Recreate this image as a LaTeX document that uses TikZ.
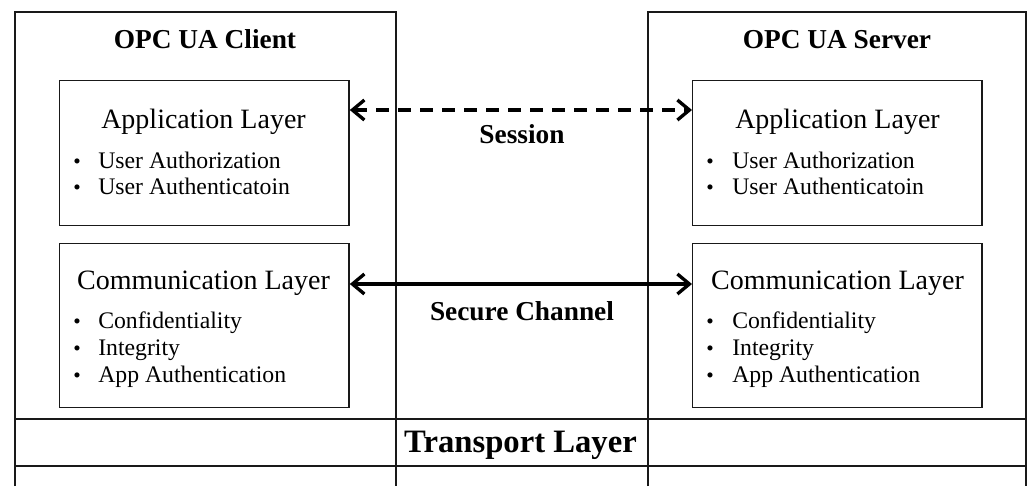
\documentclass[tikz,border=0pt]{standalone}
\usepackage{fontspec}
\setmainfont{Liberation Serif}
\usetikzlibrary{arrows.meta}

\begin{document}
\begin{tikzpicture}[x=0.75pt,y=-0.75pt,
  frame/.style={line width=1.1pt, draw=black!90},
  layerbox/.style={draw=black!90, line width=1.1pt, inner sep=0pt, anchor=north west,
                   minimum width=217pt, minimum height=108.75pt},
  commbox/.style={layerbox, minimum height=123pt},
  heading/.style={anchor=base, inner sep=0pt, font=\fontsize{20.5}{24}\selectfont\bfseries},
  layertitle/.style={anchor=base, inner sep=0pt, font=\fontsize{21}{25}\selectfont},
  item/.style={anchor=base west, inner sep=0pt, font=\fontsize{17.8}{21}\selectfont},
  dot/.style={anchor=base, inner sep=0pt, font=\fontsize{16}{19}\selectfont},
  link/.style={line width=2.5pt, {Straight Barb[length=9pt,width=15pt]}-{Straight Barb[length=9pt,width=15pt]}},
  linklabel/.style={anchor=base, inner sep=0pt, font=\fontsize{20.5}{24}\selectfont\bfseries}]

\useasboundingbox (0,0) rectangle (1029,486);

% client and server frames, open at the bottom
\draw[frame] (15,486) -- (15,12) -- (396,12) -- (396,486);
\draw[frame] (648,486) -- (648,12) -- (1026,12) -- (1026,486);
% transport layer row
\draw[frame] (15,419) -- (1026,419);
\draw[frame, line width=1.6pt] (15,466) -- (1026,466);
\node[anchor=base, inner sep=0pt, font=\fontsize{24.5}{28}\selectfont\bfseries] (transport) at (520.5,452) {Transport Layer};

% headings
\node[heading] (clienthead) at (205,48) {OPC UA Client};
\node[heading] (serverhead) at (837,48) {OPC UA Server};

% client layers
\node[layerbox] (capp) at (59,80) {};
\node[commbox] (ccomm) at (59,243) {};
% server layers
\node[layerbox] (sapp) at (692,80) {};
\node[commbox] (scomm) at (692,243) {};

% application layer contents
\node[layertitle] (capptitle) at (203.5,128) {Application Layer};
\node[dot] (cappd1) at (77,168) {\textbullet};
\node[item] (cappi1) at (98,168) {User Authorization};
\node[dot] (cappd2) at (77,194) {\textbullet};
\node[item] (cappi2) at (98,194) {User Authenticatoin};

\node[layertitle] (sapptitle) at (837.5,128) {Application Layer};
\node[dot] (sappd1) at (710,168) {\textbullet};
\node[item] (sappi1) at (732,168) {User Authorization};
\node[dot] (sappd2) at (710,194) {\textbullet};
\node[item] (sappi2) at (732,194) {User Authenticatoin};

% communication layer contents
\node[layertitle] (ccommtitle) at (203.5,289) {Communication Layer};
\node[dot] (ccommd1) at (77,328) {\textbullet};
\node[item] (ccommi1) at (98,328) {Confidentiality};
\node[dot] (ccommd2) at (77,355) {\textbullet};
\node[item] (ccommi2) at (98,355) {Integrity};
\node[dot] (ccommd3) at (77,382) {\textbullet};
\node[item] (ccommi3) at (98,382) {App Authentication};

\node[layertitle] (scommtitle) at (837.5,289) {Communication Layer};
\node[dot] (scommd1) at (710,328) {\textbullet};
\node[item] (scommi1) at (732,328) {Confidentiality};
\node[dot] (scommd2) at (710,355) {\textbullet};
\node[item] (scommi2) at (732,355) {Integrity};
\node[dot] (scommd3) at (710,382) {\textbullet};
\node[item] (scommi3) at (732,382) {App Authentication};

% session and secure channel links
\coordinate (sessionrow) at (0,110);
\coordinate (channelrow) at (0,284);
\draw[link, dash pattern=on 10pt off 6.5pt] (capp.east |- sessionrow) -- (sapp.west |- sessionrow);
\draw[link] (ccomm.east |- channelrow) -- (scomm.west |- channelrow);
\node[linklabel] (session) at (522,143) {Session};
\node[linklabel] (channel) at (522,320) {Secure Channel};

\end{tikzpicture}
\end{document}
